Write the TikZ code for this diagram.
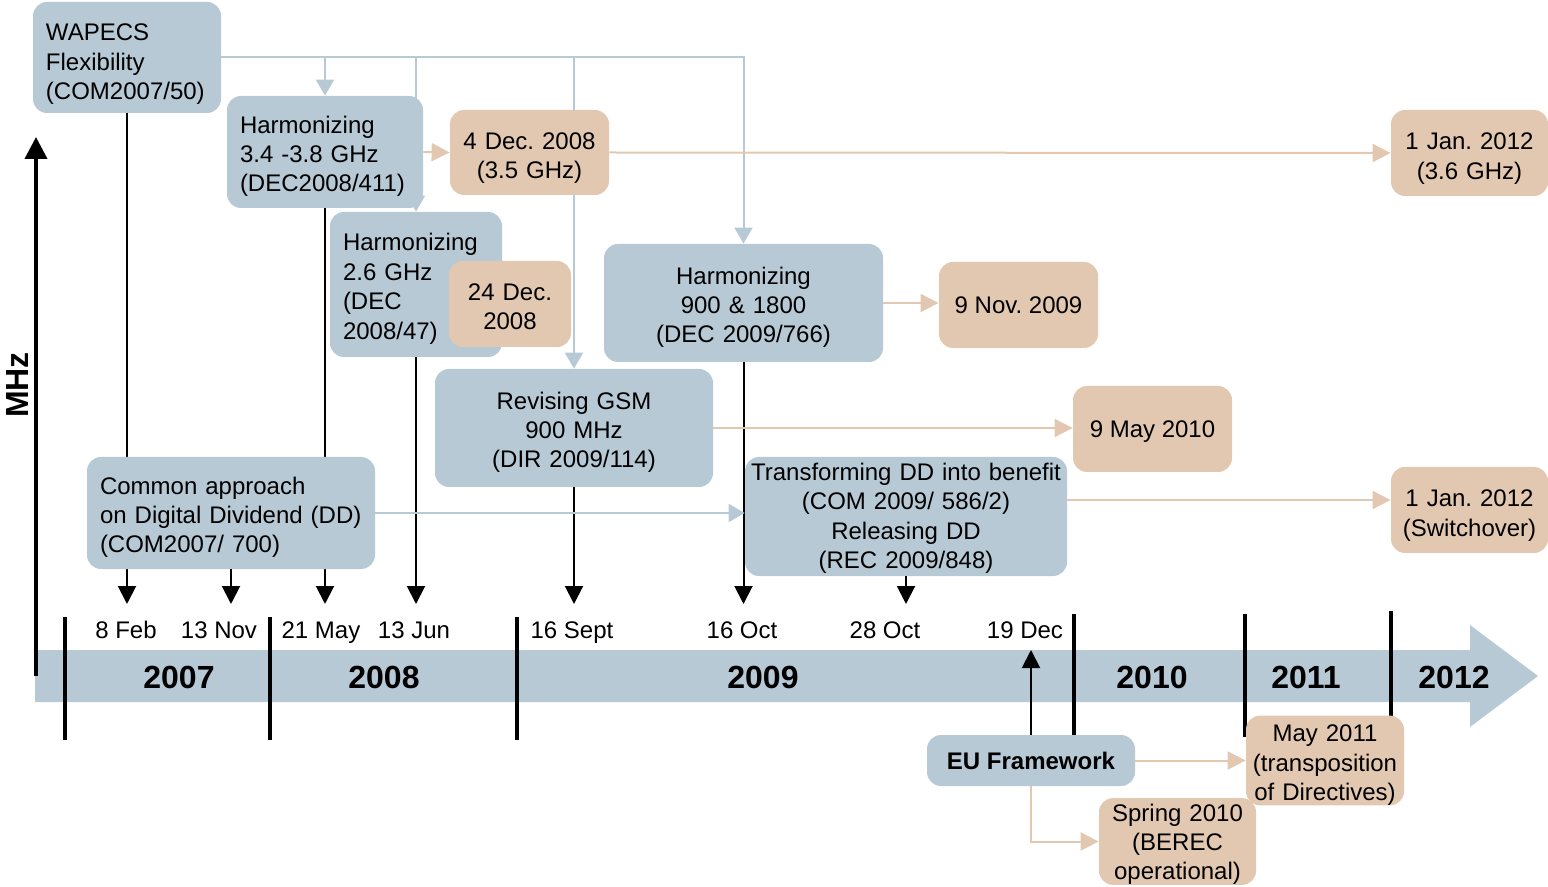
\documentclass[tikz,border=0pt]{standalone}
\usepackage{fontspec}
\setmainfont{Liberation Sans}
\usetikzlibrary{arrows.meta,backgrounds}
\definecolor{boxblue}{HTML}{B7C9D5}
\definecolor{boxorange}{HTML}{E3C8B1}
\definecolor{lineorange}{HTML}{E3C8B1}
\frenchspacing
\begin{document}
\begin{tikzpicture}[x=0.5pt,y=-0.5pt,
  txt/.style={font=\fontsize{12pt}{14.7pt}\selectfont\frenchspacing},
  lower/.style={execute at begin node={\rule{0pt}{#1}}},
  lower/.default=13pt,
  oneline/.style={text height=8.6pt, text depth=0pt},
  bluebox/.style={txt, fill=boxblue, rounded corners=7pt, inner sep=0pt, align=center},
  orangebox/.style={txt, fill=boxorange, rounded corners=7pt, inner sep=0pt, align=center},
  leftbox/.style={bluebox, align=left, inner xsep=6.5pt},
  blk/.style={line width=1pt, -{Triangle[width=9pt,length=9pt]}},
  lb/.style={draw=boxblue, line width=1pt},
  lbarrow/.style={lb, -{Triangle[width=9pt,length=8pt]}},
  orarrow/.style={draw=lineorange, line width=1pt, -{Triangle[width=9pt,length=9pt]}},
  datelbl/.style={font=\fontsize{12pt}{14pt}\selectfont, inner sep=0pt, anchor=base},
  yearlbl/.style={font=\fontsize{16pt}{19pt}\selectfont\bfseries, inner sep=0pt},
  yearsep/.style={line width=2pt},
]
\useasboundingbox (0,0) rectangle (1548,887);

% time band
\fill[boxblue] (35,650) -- (1470,650) -- (1470,625) -- (1538,676) -- (1470,727) -- (1470,702) -- (35,702) -- cycle;
\draw[yearsep] (65,617) -- (65,740);
\draw[yearsep] (270,617) -- (270,740);
\draw[yearsep] (517,617) -- (517,740);
\draw[yearsep] (1074,614) -- (1074,740);
\draw[yearsep] (1245,614) -- (1245,737);
\draw[yearsep] (1391,611) -- (1391,733);

\node[yearlbl] (y2007) at (179,677) {2007};
\node[yearlbl] (y2008) at (384,677) {2008};
\node[yearlbl] (y2009) at (763,677) {2009};
\node[yearlbl] (y2010) at (1152,677) {2010};
\node[yearlbl] (y2011) at (1306,677) {2011};
\node[yearlbl] (y2012) at (1454,677) {2012};

\node[datelbl] (d1) at (126,638.6) {8 Feb};
\node[datelbl] (d2) at (219,638.6) {13 Nov};
\node[datelbl] (d3) at (321,638.6) {21 May};
\node[datelbl] (d4) at (414,638.6) {13 Jun};
\node[datelbl] (d5) at (572,638.6) {16 Sept};
\node[datelbl] (d6) at (742,638.6) {16 Oct};
\node[datelbl] (d7) at (885,638.6) {28 Oct};
\node[datelbl] (d8) at (1025,638.6) {19 Dec};

% MHz axis
\coordinate (mhzbot) at (36,676);
\coordinate (mhztop) at (36,137);
\draw[line width=2pt, -{Triangle[width=11pt,length=11pt]}] (mhzbot) -- (mhztop);
\node[font=\fontsize{16pt}{19pt}\selectfont\bfseries, rotate=90, inner sep=0pt] (mhz) at (17,385) {MHz};

% boxes
\node[leftbox, lower=15pt, text width=81pt, minimum height=55.5pt] (wapecs) at (127,57.5) {WAPECS\\Flexibility\\(COM2007/50)};
\node[leftbox, lower, text width=85pt, minimum height=56pt] (h34) at (325,152) {Harmonizing\\3.4 -3.8 GHz\\(DEC2008/411)};
\node[orangebox, lower=14pt, text width=79.5pt, minimum height=42.5pt] (dec4) at (529.5,152.5) {4 Dec. 2008\\(3.5 GHz)};
\node[leftbox, lower, text width=73pt, minimum height=72.5pt] (h26) at (416,284.5) {Harmonizing\\2.6 GHz\\(DEC\\2008/47)};
\node[orangebox, lower=11pt, text width=61pt, minimum height=43pt] (dec24) at (510,304) {24 Dec.\\2008};
\node[bluebox, lower, text width=139.5pt, minimum height=59pt] (h900) at (743.5,303) {Harmonizing\\900 \& 1800\\(DEC 2009/766)};
\node[orangebox, oneline, minimum width=79.5pt, minimum height=43pt] (nov9) at (1018.5,305) {9 Nov. 2009};
\node[bluebox, lower, text width=139pt, minimum height=59pt] (gsm) at (574,428) {Revising GSM\\900 MHz\\(DIR 2009/114)};
\node[orangebox, oneline, minimum width=79.5pt, minimum height=43pt] (may9) at (1152.5,429) {9 May 2010};
\node[leftbox, lower, text width=131pt, minimum height=56pt] (common) at (231,513) {Common approach\\on Digital Dividend (DD)\\(COM2007/ 700)};
\node[bluebox, lower=10.5pt, text width=161pt, minimum height=59.5pt] (transf) at (906,516.5) {Transforming DD into benefit\\(COM 2009/ 586/2)\\Releasing DD\\(REC 2009/848)};
\node[orangebox, lower=14pt, text width=78.5pt, minimum height=43pt] (jan36) at (1469.5,153) {1 Jan. 2012\\(3.6 GHz)};
\node[orangebox, lower=14pt, text width=78.5pt, minimum height=43pt] (jansw) at (1469.5,510) {1 Jan. 2012\\(Switchover)};
\node[bluebox, oneline, font=\fontsize{12pt}{14.7pt}\selectfont\bfseries, minimum width=104pt, minimum height=25.5pt] (eu) at (1031,760.5) {EU Framework};
\node[orangebox, lower, text width=79pt, minimum height=42.5pt] (may11) at (1325,760.5) {May 2011\\(transposition\\of Directives)};
\node[orangebox, lower=11.5pt, text width=78.5pt, minimum height=42.5pt] (spring) at (1177.5,841.5) {Spring 2010\\(BEREC\\operational)};

\coordinate (tipy) at (0,604);
\coordinate (bandtop) at (0,650);
\coordinate (swy) at (0,500);

\begin{scope}[on background layer]
\draw[blk] (wapecs.south) -- (wapecs.south |- tipy);
\draw[blk] (h34.south) -- (h34.south |- tipy);
\draw[lbarrow] (wapecs.east) -| (h900.north);
\draw[lbarrow] (wapecs.east -| h34.north) -- (h34.north);
\draw[lbarrow] (wapecs.east -| h26.north) -- (h26.north);
\draw[lbarrow] (wapecs.east -| gsm.north) -- (gsm.north);
\end{scope}

\draw[blk] (common.south) -- (common.south |- tipy);
\draw[blk] (h26.south) -- (h26.south |- tipy);
\draw[blk] (gsm.south) -- (gsm.south |- tipy);
\draw[blk] (h900.south) -- (h900.south |- tipy);
\draw[blk] (transf.south) -- (transf.south |- tipy);
\draw[blk] (eu.north) -- (eu.north |- bandtop);

\draw[orarrow] (h34.east) -- (dec4.west);
\draw[orarrow] (dec4.east) -- (jan36.west);
\draw[orarrow] (h900.east) -- (h900.east -| nov9.west);
\draw[orarrow] (gsm.east) -- (gsm.east -| may9.west);
\draw[orarrow] (transf.east |- swy) -- (jansw.west |- swy);
\draw[orarrow] (eu.east) -- (may11.west);
\draw[orarrow] (eu.south) |- (spring.west);
\draw[lbarrow] (common.east) -- (common.east -| transf.west);
\end{tikzpicture}
\end{document}
